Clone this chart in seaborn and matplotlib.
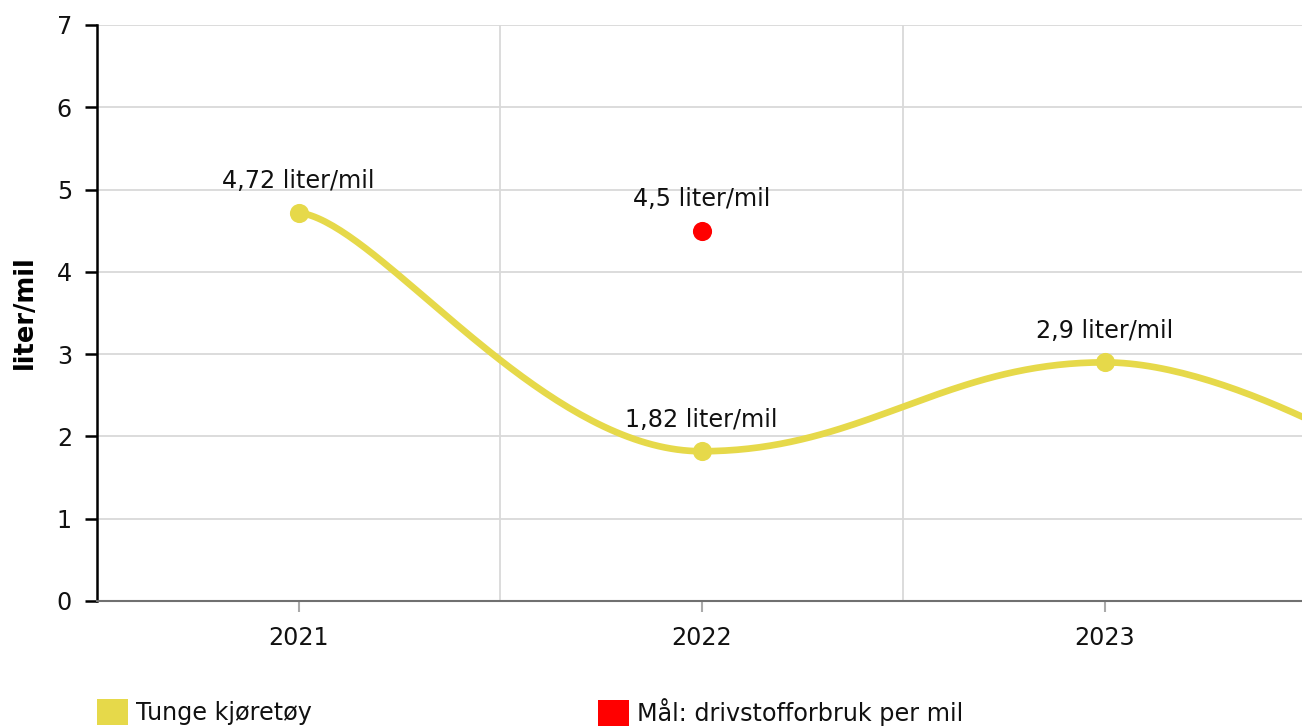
import numpy as np
import matplotlib
matplotlib.use("Agg")
import matplotlib.pyplot as plt
import seaborn as sns
from matplotlib.patches import Patch

# chart data
years = ["2021", "2022", "2023"]
tunge = [4.72, 1.82, 2.9, 0.8]          # last value lies outside the visible range
tunge_labels = ["4,72 liter/mil", "1,82 liter/mil", "2,9 liter/mil"]
maal_year = "2022"
maal_value = 4.5
maal_label = "4,5 liter/mil"

yellow = "#e6d94a"
red = "#ff0000"
FS = 17.2


def spline_path(ys, n=80):
    # Highcharts-like spline (smoothing 1.5) through points at x = 0, 1, 2, ...
    xs = np.arange(len(ys), dtype=float)
    left = [None] * len(ys)
    right = [None] * len(ys)
    # the first point leaves gently
    right[0] = (xs[0] + 0.2 * (xs[1] - xs[0]), ys[0] + 0.04 * (ys[1] - ys[0]))
    for i in range(1, len(ys) - 1):
        lx = (1.5 * xs[i] + xs[i - 1]) / 2.5
        ly = (1.5 * ys[i] + ys[i - 1]) / 2.5
        rx = (1.5 * xs[i] + xs[i + 1]) / 2.5
        ry = (1.5 * ys[i] + ys[i + 1]) / 2.5
        corr = (ry - ly) * (rx - xs[i]) / (rx - lx) + ys[i] - ry
        ly += corr
        ry += corr
        if ly > ys[i - 1] and ly > ys[i]:
            ly = max(ys[i - 1], ys[i]); ry = 2 * ys[i] - ly
        elif ly < ys[i - 1] and ly < ys[i]:
            ly = min(ys[i - 1], ys[i]); ry = 2 * ys[i] - ly
        if ry > ys[i + 1] and ry > ys[i]:
            ry = max(ys[i + 1], ys[i]); ly = 2 * ys[i] - ry
        elif ry < ys[i + 1] and ry < ys[i]:
            ry = min(ys[i + 1], ys[i]); ly = 2 * ys[i] - ry
        left[i] = (lx, ly)
        right[i] = (rx, ry)
    px, py = [], []
    t = np.linspace(0, 1, n)
    for i in range(len(ys) - 1):
        p0 = (xs[i], ys[i])
        c1 = right[i] if right[i] else p0
        p3 = (xs[i + 1], ys[i + 1])
        c2 = left[i + 1] if left[i + 1] else p3
        bx = (1 - t) ** 3 * p0[0] + 3 * (1 - t) ** 2 * t * c1[0] + 3 * (1 - t) * t ** 2 * c2[0] + t ** 3 * p3[0]
        by = (1 - t) ** 3 * p0[1] + 3 * (1 - t) ** 2 * t * c1[1] + 3 * (1 - t) * t ** 2 * c2[1] + t ** 3 * p3[1]
        px.extend(bx)
        py.extend(by)
    return np.array(px), np.array(py)


sns.set_style("white")
plt.rcParams["font.family"] = ["DejaVu Sans"]
plt.rcParams["text.color"] = "#111111"

fig = plt.figure(figsize=(13.02, 7.27), dpi=100)
ax = fig.add_axes([97 / 1302, 1 - 601 / 727, 1209 / 1302, 576 / 727])

# grid
for y in range(1, 8):
    ax.axhline(y, color="#d9d9d9", lw=1.3, zorder=0)
for x in [0.5, 1.5]:
    ax.axvline(x, color="#d9d9d9", lw=1.3, zorder=0)

# spline line
sx, sy = spline_path(tunge)
sns.lineplot(x=sx, y=sy, sort=False, color=yellow, lw=4.8, ax=ax, zorder=3)
xs = np.arange(len(years))
sns.scatterplot(x=xs, y=tunge[:len(years)], color=yellow, s=190, linewidth=0, ax=ax, zorder=4)
for x, y, lab in zip(xs, tunge, tunge_labels):
    ax.annotate(lab, (x, y), xytext=(0, 14), textcoords="offset points",
                ha="center", va="bottom", fontsize=FS, color="#111111", zorder=5)

# target point
mx = years.index(maal_year)
sns.scatterplot(x=[mx], y=[maal_value], color=red, s=190, linewidth=0, ax=ax, zorder=4)
ax.annotate(maal_label, (mx, maal_value), xytext=(0, 14), textcoords="offset points",
            ha="center", va="bottom", fontsize=FS, color="#111111", zorder=5)

ax.set_xlim(-0.5, 2.5)
ax.set_ylim(0, 7)
ax.set_xticks(xs)
ax.set_xticklabels(years)
ax.set_yticks(range(0, 8))
ax.tick_params(axis="x", bottom=True, direction="out", length=8, width=1.5, color="#aaaaaa",
               labelsize=FS, labelcolor="#111111", pad=10)
ax.tick_params(axis="y", left=True, direction="out", length=9, width=1.8, color="#000000",
               labelsize=FS, labelcolor="#111111", pad=9)
for s in ["top", "right"]:
    ax.spines[s].set_visible(False)
ax.spines["left"].set_color("#000000")
ax.spines["left"].set_linewidth(1.8)
ax.spines["bottom"].set_color("#707070")
ax.spines["bottom"].set_linewidth(1.5)
ax.set_xlabel("")
ax.set_ylabel("")
fig.text(25 / 1302, 1 - 312 / 727, "liter/mil", rotation=90, ha="center", va="center",
         fontsize=18.5, fontweight="bold", color="#000000")

# legend (two items placed apart)
for x0, col, lab in [(97 / 1302, yellow, "Tunge kjøretøy"), (598 / 1302, red, "Mål: drivstofforbruk per mil")]:
    leg = fig.legend(handles=[Patch(facecolor=col, edgecolor="none", label=lab)],
                     loc="center left", bbox_to_anchor=(x0, 1 - 712 / 727), frameon=False,
                     fontsize=FS, handlelength=1.3, handleheight=1.3, handletextpad=0.35,
                     borderpad=0, borderaxespad=0)
    for t in leg.get_texts():
        t.set_color("#111111")

fig.savefig("out.png", dpi=100)
